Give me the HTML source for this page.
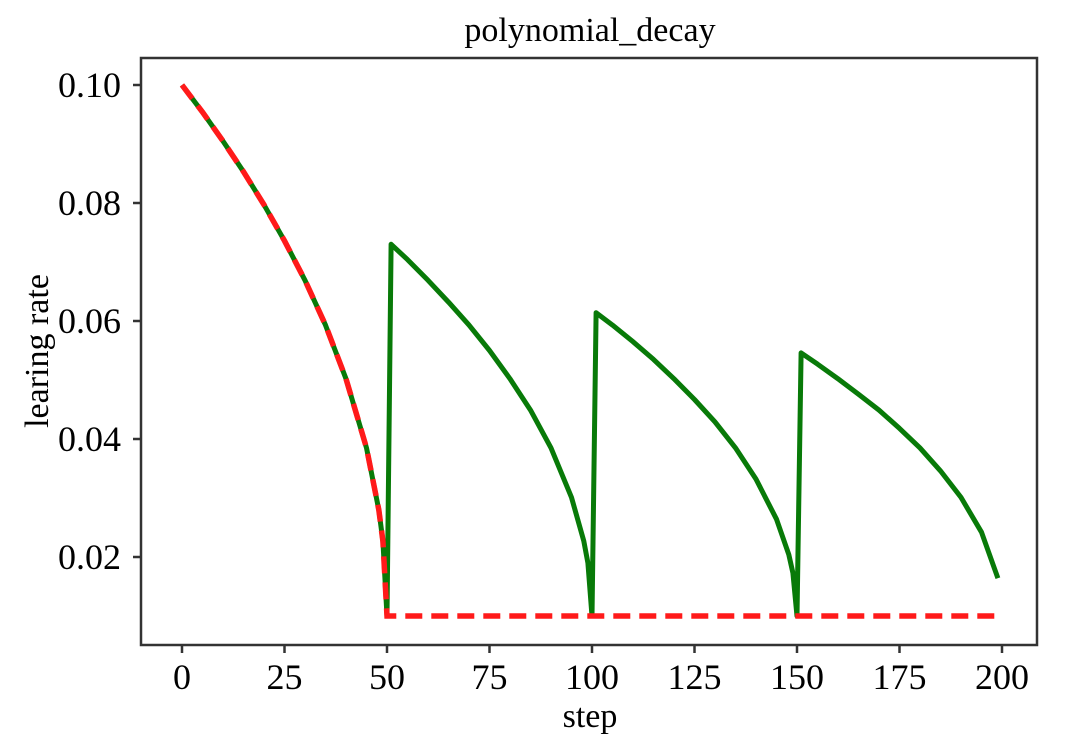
<!DOCTYPE html>
<html><head><meta charset="utf-8"><style>
body{margin:0;background:#fff}
svg text{font-family:"Liberation Serif",serif;fill:#000}
</style></head><body>
<svg id="c" width="1076" height="744" xmlns="http://www.w3.org/2000/svg">
<text x="590" y="41" font-size="34" text-anchor="middle">polynomial_decay</text>
<text x="590" y="727" font-size="34" text-anchor="middle">step</text>
<text transform="translate(48,351) rotate(-90)" font-size="34" text-anchor="middle">learing rate</text>
<g id="ax"></g>
<g id="series"></g>
<rect x="141" y="58" width="896" height="587" fill="none" stroke="#333" stroke-width="2.5"/>
</svg>
<script>
const xTicks=[0,25,50,75,100,125,150,175,200];
const yTicks=[0.02,0.04,0.06,0.08,0.10];
const yTickLabels=["0.02","0.04","0.06","0.08","0.10"];
const redSteps=[0,5,10,15,20,25,30,35,40,45,48,49,50,199];
const redValues=[0.1,0.0954,0.0905,0.0853,0.0797,0.0736,0.0669,0.0593,0.0502,0.0385,0.028,0.0227,0.01,0.01];
const greenSteps=[0,5,10,15,20,25,30,35,40,45,48,49,50,51,55,60,65,70,75,80,85,90,95,98,99,100,101,105,110,115,120,125,130,135,140,145,148,149,150,151,155,160,165,170,175,180,185,190,195,199];
const greenValues=[0.1,0.0954,0.0905,0.0853,0.0797,0.0736,0.0669,0.0593,0.0502,0.0385,0.028,0.0227,0.01,0.073,0.0704,0.0669,0.0632,0.0593,0.055,0.0502,0.0449,0.0385,0.0301,0.0227,0.019,0.01,0.0614,0.0593,0.0565,0.0535,0.0502,0.0467,0.0429,0.0385,0.0332,0.0264,0.0204,0.0173,0.01,0.0546,0.0527,0.0502,0.0476,0.0449,0.0418,0.0385,0.0346,0.0301,0.0242,0.0164];
const X=s=>182+s*4.1;
const Y=v=>85+(0.10-v)/0.02*118;
const NS="http://www.w3.org/2000/svg";
const ax=document.getElementById('ax'),sg=document.getElementById('series');
function mk(t,a,p){const e=document.createElementNS(NS,t);for(const k in a)e.setAttribute(k,a[k]);p.appendChild(e);return e;}
xTicks.forEach(t=>{
 const l=mk('line',{x1:X(t),x2:X(t),y1:645,y2:653,stroke:'#333','stroke-width':2.5},ax);
 
 
 const tx=mk('text',{x:X(t),y:689,'font-size':36,'text-anchor':'middle'},ax);tx.textContent=t;
 
 
});
yTicks.forEach((t,i)=>{
 const l=mk('line',{x1:133,x2:141,y1:Y(t),y2:Y(t),stroke:'#333','stroke-width':2.5},ax);
 
 
 const tx=mk('text',{x:121,y:Y(t)+12,'font-size':36,'text-anchor':'end'},ax);tx.textContent=yTickLabels[i];
 
 
});
function pts(s,v){return s.map((x,i)=>X(x).toFixed(1)+','+Y(v[i]).toFixed(1)).join(' ');}
const g=mk('polyline',{points:pts(greenSteps,greenValues),fill:'none',stroke:'#087a08','stroke-width':5,'stroke-linejoin':'round'},sg);


const r=mk('polyline',{points:pts(redSteps,redValues),fill:'none',stroke:'#ff1a1a','stroke-width':5.5,'stroke-dasharray':'17 9'},sg);


</script>
</body></html>
